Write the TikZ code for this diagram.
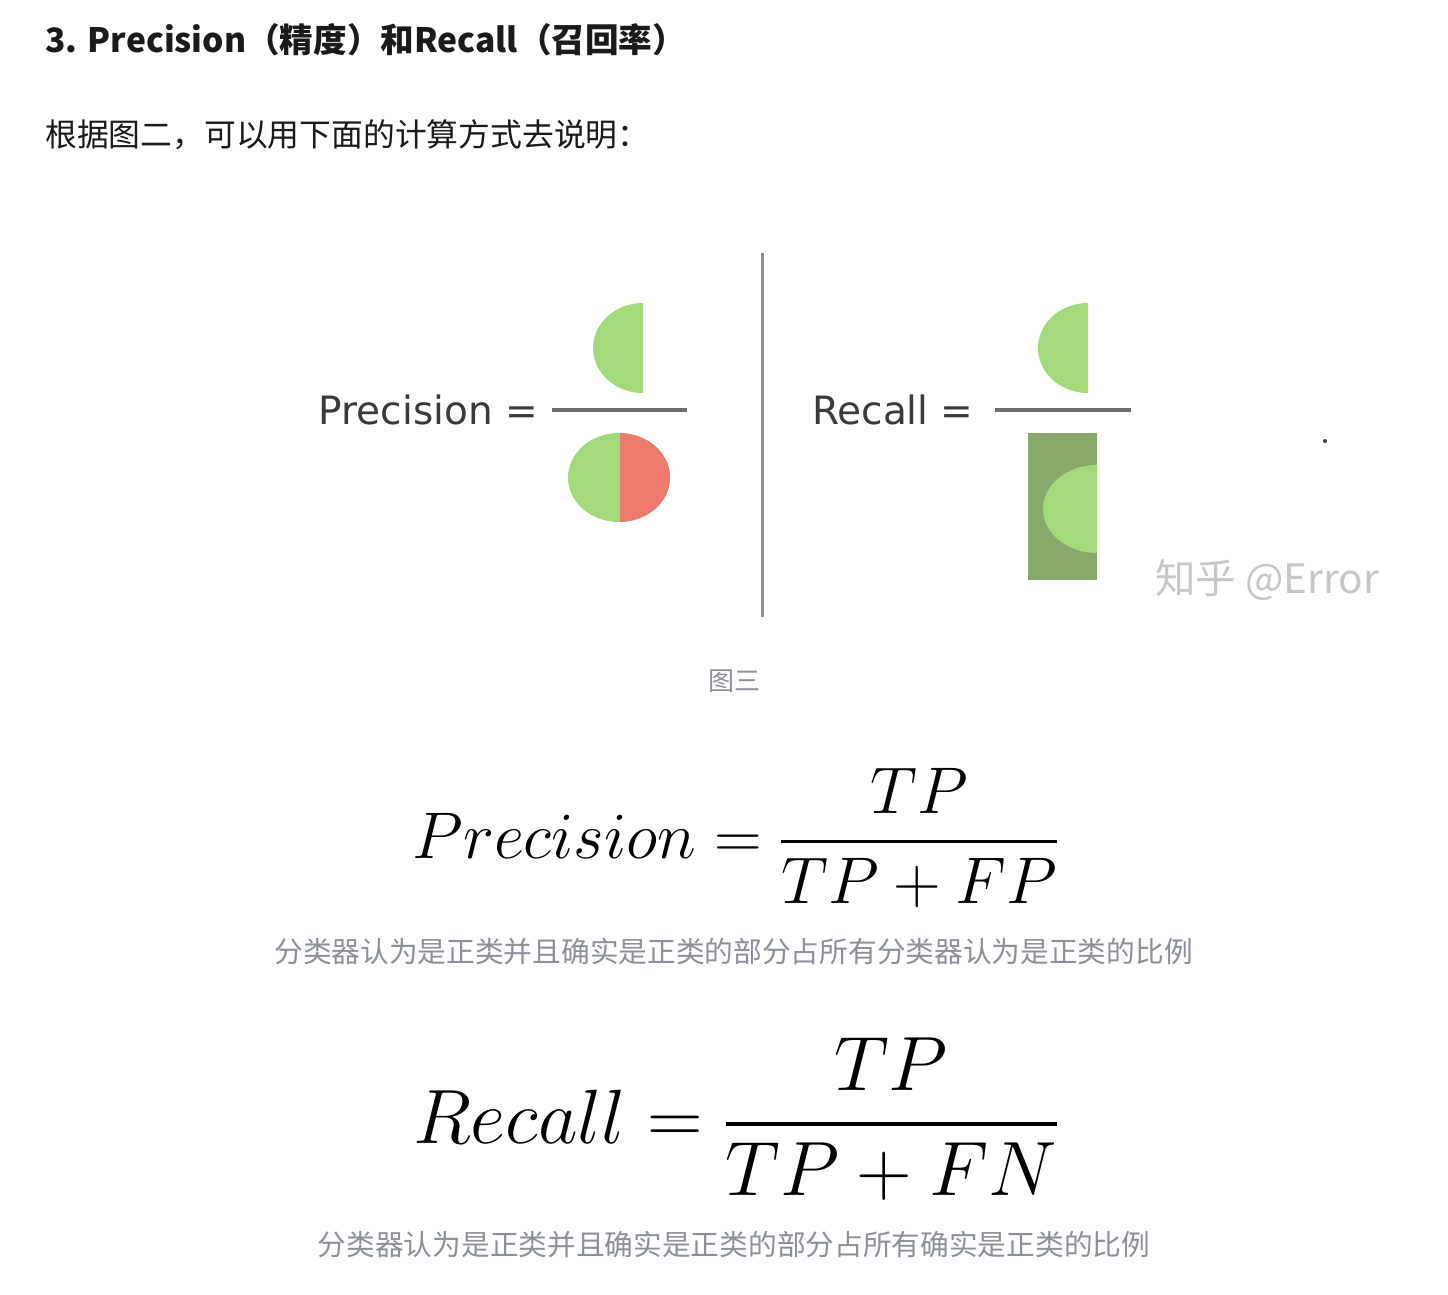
\documentclass[tikz,border=0pt]{standalone}
\usepackage{fix-cm}
\usepackage{amsmath}
\usepackage{fontspec}
\newfontfamily\cjk{Noto Sans CJK SC}
\newfontfamily\figsans{DejaVu Sans}
\definecolor{ltgreen}{HTML}{A2D97A}
\definecolor{dkgreen}{HTML}{87AA6C}
\definecolor{pred}{HTML}{EE7A6E}
\definecolor{bar}{HTML}{6E6E6E}
\definecolor{vline}{HTML}{8E8E8E}
\definecolor{capgray}{HTML}{8B9099}
\definecolor{ink}{HTML}{1A1A1A}
\definecolor{figink}{HTML}{3A3A3A}
\tikzset{
  heading/.style={inner sep=0pt, text=ink, font=\cjk\bfseries\fontsize{33.6}{40}\selectfont},
  bodytext/.style={inner sep=0pt, text=ink, font=\cjk\fontsize{31.8}{38}\selectfont},
  caption/.style={inner sep=0pt, text=capgray, font=\cjk\fontsize{28.7}{34}\selectfont},
  figlabel/.style={inner sep=0pt, text=figink, font=\figsans\fontsize{39}{46}\selectfont},
  fracbar/.style={draw=bar, line width=4pt},
  formula/.style={inner sep=0pt, text=black},
}
\begin{document}
\begin{tikzpicture}[x=1pt,y=-1pt]
\useasboundingbox[fill=white] (0,0) rectangle (1448,1294);

% heading and intro line
\node[heading, anchor=west] (title) at (45,40) {3. Precision（精度）和Recall（召回率）};
\node[bodytext, anchor=west] (intro) at (45,135) {根据图二，可以用下面的计算方式去说明：};

% ---------- figure ----------
% Precision side
\node[figlabel, anchor=base east] (plabel) at (538,424) {Precision =};
\coordinate (pbarL) at (552,410);
\coordinate (pbarR) at (687,410);
\draw[fracbar] (pbarL) -- (pbarR);
\begin{scope}
  \clip (590,298) rectangle (643,398);
  \fill[ltgreen] (643,348) ellipse[x radius=50, y radius=45];
\end{scope}
\fill[ltgreen] (619,477.5) ellipse[x radius=51, y radius=44.5];
\begin{scope}
  \clip (620,430) rectangle (675,526);
  \fill[pred] (619,477.5) ellipse[x radius=51, y radius=44.5];
\end{scope}

% separator
\coordinate (vtop) at (762,253);
\coordinate (vbot) at (762,617);
\draw[vline, line width=3pt] (vtop) -- (vbot);

% Recall side
\node[figlabel, anchor=base west] (rlabel) at (812,424) {Recall =};
\coordinate (rbarL) at (995,410);
\coordinate (rbarR) at (1131,410);
\draw[fracbar] (rbarL) -- (rbarR);
\begin{scope}
  \clip (1035,298) rectangle (1088,398);
  \fill[ltgreen] (1088,348) ellipse[x radius=50, y radius=45];
\end{scope}
\fill[dkgreen] (1028,433) rectangle (1097,580);
\begin{scope}
  \clip (1028,433) rectangle (1097,580);
  \fill[ltgreen] (1097,509) ellipse[x radius=54, y radius=44];
\end{scope}

\fill[black!75] (1325,441) circle[radius=2];
\node[inner sep=0pt, anchor=west, text=black!22, font=\cjk\fontsize{40.5}{46}\selectfont] (wm) at (1155,580) {知乎 @Error};

\node[inner sep=0pt, text=capgray, font=\cjk\fontsize{26}{30}\selectfont] (fig3) at (734,681) {图三};

% ---------- formulas ----------
\node[formula, anchor=base] (precf) at (735.5,858)
  {\fontsize{66}{80}\selectfont $\displaystyle Precision = \genfrac{}{}{3.2pt}{0}{TP}{TP+FP}$};
\node[caption] (precc) at (733.5,952) {分类器认为是正类并且确实是正类的部分占所有分类器认为是正类的比例};

\node[formula, anchor=base] (recf) at (735.5,1143)
  {\fontsize{77}{92}\selectfont $\displaystyle Recall = \genfrac{}{}{3.6pt}{0}{TP}{TP+FN}$};
\node[caption] (recc) at (734,1245) {分类器认为是正类并且确实是正类的部分占所有确实是正类的比例};
\end{tikzpicture}
\end{document}
